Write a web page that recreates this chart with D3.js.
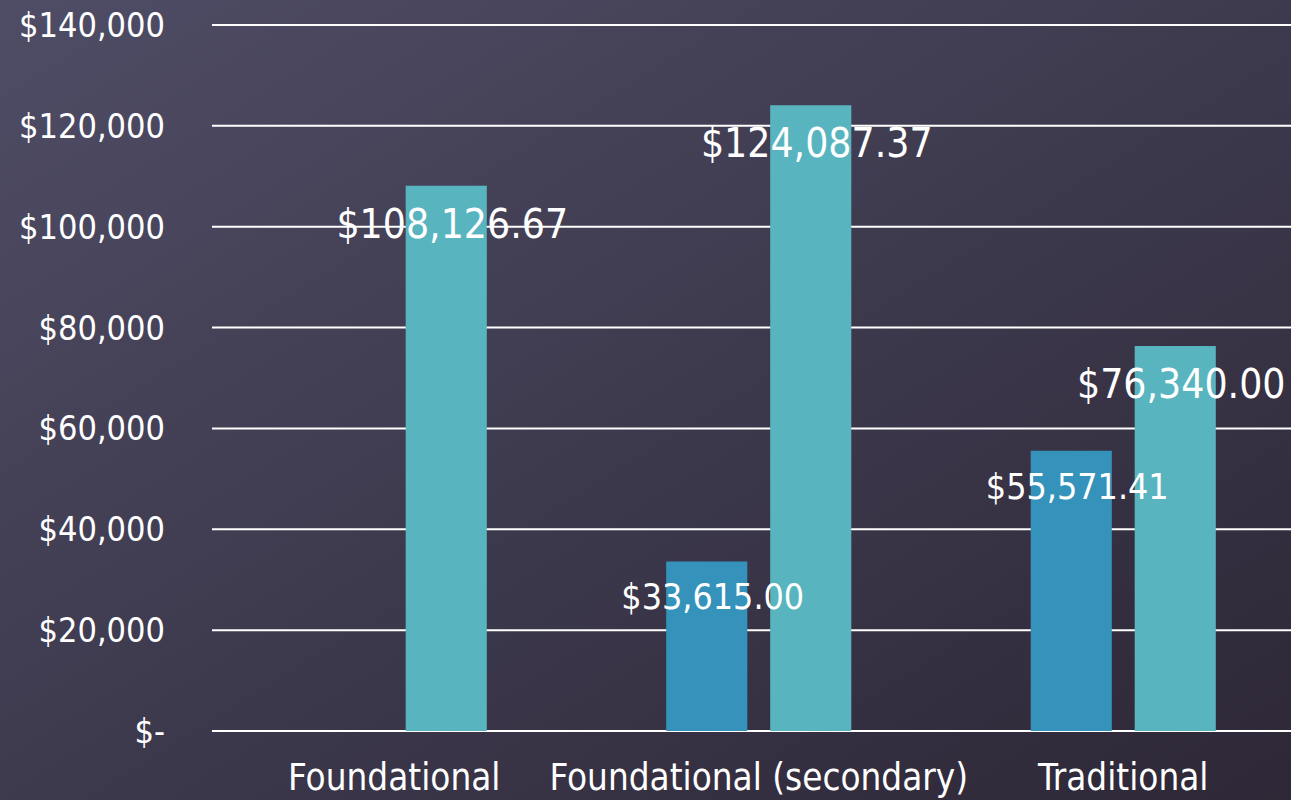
<!DOCTYPE html>
<html>
<head>
<meta charset="utf-8">
<script src="https://cdn.jsdelivr.net/npm/d3@7"></script>
<style>
  html, body { margin: 0; padding: 0; overflow: hidden; }
  svg { display: block; }
  text { font-family: "DejaVu Sans Condensed", "DejaVu Sans", sans-serif; fill: #ffffff; }
</style>
</head>
<body>
<script>
// Datos del gráfico
const categorias = ["Foundational", "Foundational (secondary)", "Traditional"];
const series = ["Serie 1", "Serie 2"];
const valoresSerie1 = [null, 33615.00, 55571.41];
const valoresSerie2 = [108126.67, 124087.37, 76340.00];
const ticksY = [0, 20000, 40000, 60000, 80000, 100000, 120000, 140000];

const ancho = 1291, alto = 800;
const margen = { izq: 212, der: -14.5, arriba: 25, abajo: 69 };

const svg = d3.select("body")
  .append("svg")
  .attr("width", ancho)
  .attr("height", alto);

// Fondo con degradado
const defs = svg.append("defs");
const grad = defs.append("linearGradient")
  .attr("id", "fondo")
  .attr("x1", "0%").attr("y1", "0%")
  .attr("x2", "100%").attr("y2", "100%");
grad.append("stop").attr("offset", "0%").attr("stop-color", "#4f4d66");
grad.append("stop").attr("offset", "100%").attr("stop-color", "#2d2736");
svg.append("rect")
  .attr("width", ancho).attr("height", alto)
  .attr("fill", "url(#fondo)");

const x = d3.scaleBand()
  .domain(categorias)
  .range([margen.izq, ancho - margen.der])
  .padding(0);

const xSerie = d3.scaleBand()
  .domain(series)
  .range([0, x.bandwidth()])
  .paddingInner(0.22)
  .paddingOuter(0.8625);

const y = d3.scaleLinear()
  .domain([0, 140000])
  .range([alto - margen.abajo, margen.arriba]);

const colores = d3.scaleOrdinal()
  .domain(series)
  .range(["#3592bb", "#58b5bf"]);

const formatoEje = d => d === 0 ? "$-" : "$" + d3.format(",")(d);
const formatoValor = d => "$" + d3.format(",.2f")(d);

// Líneas de cuadrícula
svg.append("g")
  .selectAll("line")
  .data(ticksY)
  .join("line")
  .attr("x1", margen.izq)
  .attr("x2", ancho)
  .attr("y1", d => y(d))
  .attr("y2", d => y(d))
  .attr("stroke", "#ffffff")
  .attr("stroke-width", 2);

// Etiquetas del eje Y
svg.append("g")
  .selectAll("text")
  .data(ticksY)
  .join("text")
  .attr("x", 165)
  .attr("y", d => y(d))
  .attr("text-anchor", "end")
  .attr("dominant-baseline", "central")
  .attr("font-size", 34)
  .text(formatoEje);

// Datos en formato largo
const datos = [];
categorias.forEach((c, i) => {
  datos.push({ cat: c, serie: series[0], valor: valoresSerie1[i] });
  datos.push({ cat: c, serie: series[1], valor: valoresSerie2[i] });
});
const conValor = datos.filter(d => d.valor != null);

// Barras
svg.append("g")
  .selectAll("rect")
  .data(conValor)
  .join("rect")
  .attr("x", d => x(d.cat) + xSerie(d.serie))
  .attr("width", xSerie.bandwidth())
  .attr("y", d => y(d.valor))
  .attr("height", d => y(0) - y(d.valor))
  .attr("fill", d => colores(d.serie));

// Etiquetas de valores
svg.append("g")
  .selectAll("text")
  .data(conValor)
  .join("text")
  .attr("x", d => x(d.cat) + xSerie(d.serie) + xSerie.bandwidth() / 2 + 6)
  .attr("y", d => y(d.valor) + (d.serie === series[1] ? 52 : 48))
  .attr("text-anchor", "middle")
  .attr("font-size", d => d.serie === series[1] ? 40.5 : 35.5)
  .text(d => formatoValor(d.valor));

// Etiquetas del eje X
svg.append("g")
  .selectAll("text")
  .data(categorias)
  .join("text")
  .attr("x", d => x(d) + x.bandwidth() / 2)
  .attr("y", 790)
  .attr("text-anchor", "middle")
  .attr("font-size", 36.5)
  .text(d => d);
</script>
</body>
</html>
